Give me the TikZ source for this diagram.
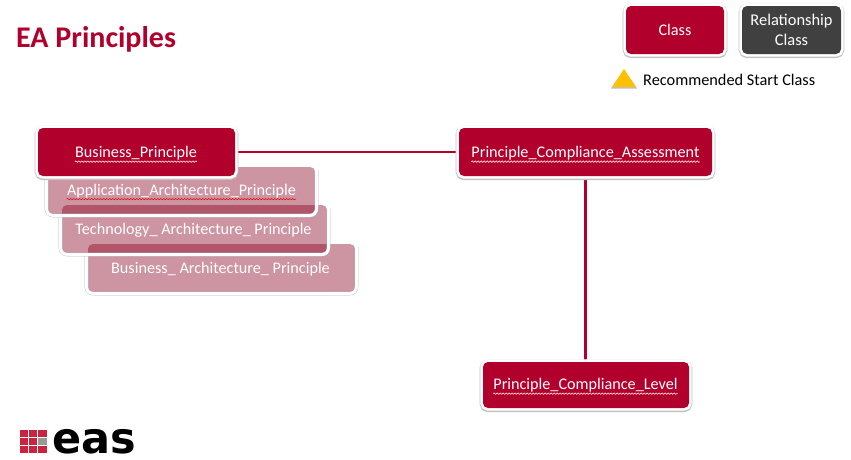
\documentclass[tikz,border=0pt]{standalone}
\usepackage{fontspec}
\setmainfont{Carlito}
\newfontfamily\logofont{DejaVu Sans}
\usetikzlibrary{decorations.pathmorphing}
\pgfdeclarelayer{paper}
\pgfdeclarelayer{links}
\pgfsetlayers{paper,links,main}
\definecolor{eared}{HTML}{B2002D}
\definecolor{eafade}{HTML}{890020}
\definecolor{eagray}{HTML}{404040}
\definecolor{eaamber}{HTML}{FFC000}
\definecolor{ealogo}{HTML}{C9243F}
\tikzset{
  x=1pt,y=-1pt,
  boxsize/.style 2 args={minimum width=#1pt,minimum height=#2pt},
  solidbox/.style={rounded corners=5pt,fill=eared,draw=none,outer sep=0pt,inner sep=0pt,anchor=north west,
    preaction={draw=black!24,line width=6.6pt,transform canvas={yshift=-0.9pt}},
    preaction={draw=white,line width=5.4pt}},
  fadebox/.style={rounded corners=5pt,fill=eafade,fill opacity=0.42,draw=none,outer sep=0pt,inner sep=0pt,anchor=north west},
  boxtext/.style={text=white,font=\fontsize{16.2}{20}\selectfont,inner sep=0pt,align=center},
  link/.style={draw=eared,line width=2.2pt},
  squiggle/.style={draw=red!85!black,line width=0.5pt,decorate,decoration={snake,amplitude=0.7pt,segment length=3pt}},
  palesquiggle/.style={squiggle,draw=white!82!red,line width=0.7pt},
  rimline/.style={draw=white,line width=3pt,rounded corners=6.5pt},
  rimshade/.style={draw=black!30,line width=3.6pt,rounded corners=6.5pt,yshift=-0.9pt},
}
\newcommand{\rimpath}[1]{([xshift=-1.5pt,yshift=-12pt]#1.north west) -- ([xshift=-1.5pt,yshift=-1.5pt]#1.south west) -- ([xshift=1.5pt,yshift=-1.5pt]#1.south east) -- ([xshift=1.5pt,yshift=-3pt]#1.north east)}
\begin{document}
\begin{tikzpicture}
\useasboundingbox (0,0) rectangle (851,459);
\begin{pgfonlayer}{paper}
\fill[white] (0,0) rectangle (851,459);
\end{pgfonlayer}
\node[anchor=west,text=eared,inner sep=0pt,font=\fontsize{30}{34}\selectfont\bfseries] (title) at (16,39) {EA Principles};
% legend
\node[solidbox,boxsize={98}{48}] (legclass) at (626,6) {};
\node[boxtext] (legclasst) at (legclass.center) {Class};
\node[solidbox,fill=eagray,boxsize={99}{48}] (legrel) at (742,6) {};
\node[boxtext,font=\fontsize{16.4}{20}\selectfont] (legrelt) at (legrel.center) {Relationship\\Class};
\fill[black!25] (611,88.5) -- (624,70) -- (637,88.5) -- cycle;
\fill[eaamber] (612,87) -- (624,69) -- (636,87) -- cycle;
\node[anchor=west,inner sep=0pt,text=black,font=\fontsize{16.3}{20}\selectfont] (legstart) at (643,80) {Recommended Start Class};
% stacked faded boxes
\node[fadebox,boxsize={267}{47}] (app) at (48,167) {};
\node[fadebox,boxsize={265}{48}] (tech) at (62,205) {};
\node[fadebox,boxsize={267}{48}] (bus) at (88,244) {};
\draw[rimshade] \rimpath{bus};
\draw[rimline] \rimpath{bus};
\draw[rimshade] \rimpath{tech};
\draw[rimline] \rimpath{tech};
\draw[rimshade] \rimpath{app};
\draw[rimline] \rimpath{app};
\node[boxtext] (appt) at (181.5,191) {Application\_Architecture\_Principle};
\draw[squiggle] ([yshift=-1pt]appt.south west) -- ([yshift=-1pt]appt.south east);
\node[boxtext] (techt) at (193.5,230) {Technology\_ Architecture\_ Principle};
\node[boxtext] (bust) at (220.5,269) {Business\_ Architecture\_ Principle};
% main classes
\node[solidbox,boxsize={197}{48}] (bp) at (38,128) {};
\node[solidbox,boxsize={253}{48}] (pca) at (459,128) {};
\node[solidbox,boxsize={206}{46}] (pcl) at (483,362) {};
\begin{pgfonlayer}{links}
\draw[link] (bp.east) -- (pca.west);
\draw[link] (pca.south) -- (pca.south |- pcl.north);
\end{pgfonlayer}
\node[boxtext] (bpt) at (136,153.5) {Business\_Principle};
\draw[palesquiggle] ([yshift=-1pt]bpt.south west) -- ([yshift=-1pt]bpt.south east);
\node[boxtext] (pcat) at (585.5,153.5) {Principle\_Compliance\_Assessment};
\draw[palesquiggle] ([yshift=-1pt]pcat.south west) -- ([yshift=-1pt]pcat.south east);
\node[boxtext] (pclt) at (585.5,385.5) {Principle\_Compliance\_Level};
\draw[palesquiggle] ([yshift=-1pt]pclt.south west) -- ([yshift=-1pt]pclt.south east);
% logo
\foreach \r in {0,1,2}{\foreach \c in {0,1,2}{
  \fill[ealogo] ({20+\c*9.2},{430+\r*8}) rectangle +(8.2,7);
}}
\fill[gray!80] (38.4,438) rectangle +(8.2,7);
\node[anchor=base west,inner sep=0pt,text=black,font=\fontsize{43}{46}\logofont\bfseries] (logo) at (52.5,453) {eas};
\end{tikzpicture}
\end{document}
